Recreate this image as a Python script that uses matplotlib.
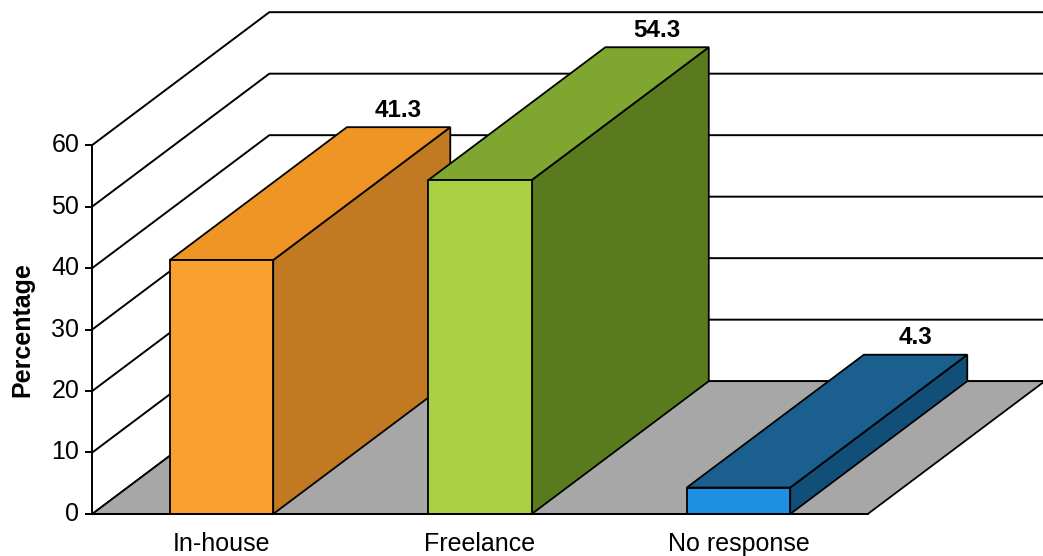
import numpy as np
import matplotlib.pyplot as plt
from matplotlib.patches import Polygon

plt.rcParams['font.family'] = ['Liberation Sans', 'DejaVu Sans']

categories = ["In-house", "Freelance", "No response"]
values = [41.3, 54.3, 4.3]
yticks = [0, 10, 20, 30, 40, 50, 60]

# front / top / side shades for each bar
front_cols = ["#f9a02e", "#a9d043", "#1f8fe2"]
top_cols = ["#ee9526", "#7fa62e", "#1b5f8f"]
side_cols = ["#c27a22", "#5a7a1e", "#114e78"]

# oblique depth offset (in data units) and bar geometry
DX, DY = 0.685, 21.6
half_w = 0.2
x_left, x_right = -0.5, 2.5
x_max = 3.178

fig = plt.figure(figsize=(10.43, 5.56), dpi=100)
ax = fig.add_axes([0, 0, 1, 1])
ax.set_xlim(-0.857, x_max)
ax.set_ylim(-6.83, 83.58)
ax.axis("off")

# gridlines on side wall and back wall
for t in yticks:
    ax.plot([x_left, x_left + DX, x_max + 0.05], [t, t + DY, t + DY],
            color="black", lw=1.4, zorder=1)

# floor
floor = Polygon([(x_left, 0), (x_right, 0), (x_right + DX, DY), (x_left + DX, DY)],
                closed=True, facecolor="#a7a7a7", edgecolor="black", lw=1.3, zorder=2)
ax.add_patch(floor)

# value axis with ticks
ax.plot([x_left, x_left], [0, 60], color="black", lw=1.4, zorder=5)
for t in yticks:
    ax.plot([x_left - 0.025, x_left], [t, t], color="black", lw=1.4, zorder=5)
    ax.text(x_left - 0.05, t, str(t), ha="right", va="center", fontsize=18)
ax.plot([x_left - 0.025, x_right], [0, 0], color="black", lw=1.4, zorder=5)

ax.text(-0.77, 30, "Percentage", rotation=90, ha="center", va="center",
        fontsize=18, fontweight="bold")

# bars
for i, (cat, v) in enumerate(zip(categories, values)):
    x0, x1 = i - half_w, i + half_w
    side = Polygon([(x1, 0), (x1 + DX, DY), (x1 + DX, v + DY), (x1, v)],
                   closed=True, facecolor=side_cols[i], edgecolor="black", lw=1.3, zorder=3)
    top = Polygon([(x0, v), (x1, v), (x1 + DX, v + DY), (x0 + DX, v + DY)],
                  closed=True, facecolor=top_cols[i], edgecolor="black", lw=1.3, zorder=3)
    front = Polygon([(x0, 0), (x1, 0), (x1, v), (x0, v)],
                    closed=True, facecolor=front_cols[i], edgecolor="black", lw=1.3, zorder=4)
    for p in (side, top, front):
        ax.add_patch(p)
    ax.text(i + DX, v + DY + 0.9, f"{v:.1f}", ha="center", va="bottom",
            fontsize=17.5, fontweight="bold")
    ax.text(i, -2.9, cat, ha="center", va="top", fontsize=18)

fig.savefig("out.png", dpi=100)
